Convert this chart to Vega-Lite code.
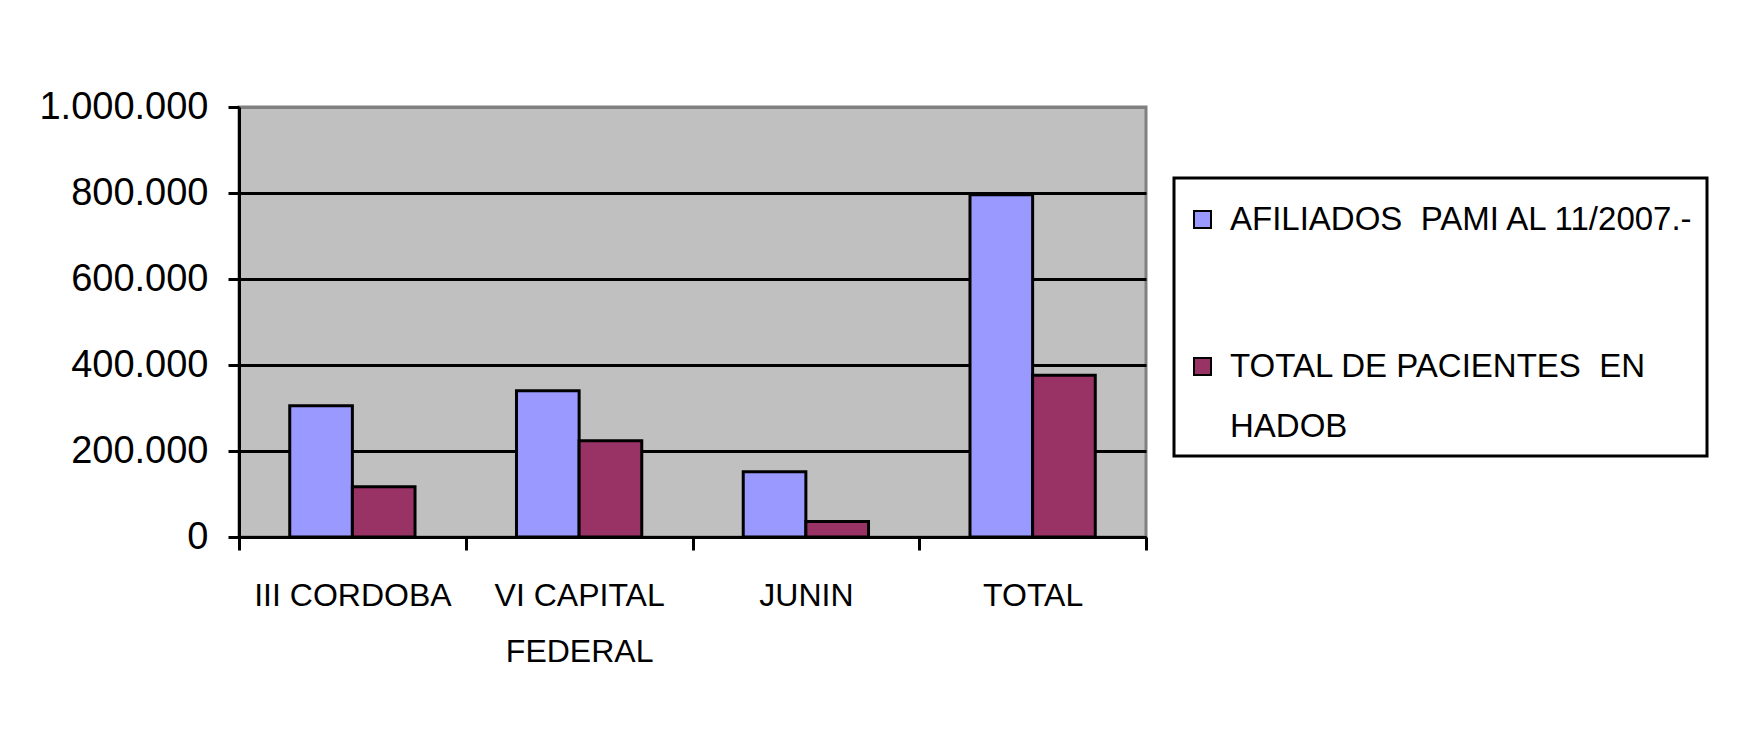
{
  "$schema": "https://vega.github.io/schema/vega-lite/v6.json",
  "width": 907,
  "height": 430,
  "autosize": {"type": "none"},
  "padding": {"left": 239, "top": 107, "right": 600, "bottom": 210},
  "background": "white",
  "data": {
    "values": [
      {"region": "III CORDOBA", "serie": "AFILIADOS  PAMI AL 11/2007.-", "valor": 305000},
      {"region": "III CORDOBA", "serie": "TOTAL DE PACIENTES  EN HADOB", "valor": 117000},
      {"region": "VI CAPITAL FEDERAL", "serie": "AFILIADOS  PAMI AL 11/2007.-", "valor": 340000},
      {"region": "VI CAPITAL FEDERAL", "serie": "TOTAL DE PACIENTES  EN HADOB", "valor": 224000},
      {"region": "JUNIN", "serie": "AFILIADOS  PAMI AL 11/2007.-", "valor": 152000},
      {"region": "JUNIN", "serie": "TOTAL DE PACIENTES  EN HADOB", "valor": 36000},
      {"region": "TOTAL", "serie": "AFILIADOS  PAMI AL 11/2007.-", "valor": 796000},
      {"region": "TOTAL", "serie": "TOTAL DE PACIENTES  EN HADOB", "valor": 376000}
    ]
  },
  "mark": {"type": "bar", "stroke": "black", "strokeWidth": 3},
  "encoding": {
    "x": {
      "field": "region",
      "type": "nominal",
      "sort": null,
      "title": null,
      "scale": {"paddingInner": 0, "paddingOuter": 0},
      "axis": {
        "labelAngle": 0,
        "labelFont": "Liberation Sans",
        "labelFontSize": 32,
        "labelColor": "black",
        "labelLineHeight": 56,
        "labelPadding": 30,
        "labelLimit": 400,
        "labelExpr": "datum.label == 'VI CAPITAL FEDERAL' ? ['VI CAPITAL', 'FEDERAL'] : datum.label",
        "tickBand": "extent",
        "tickColor": "black",
        "tickWidth": 3,
        "tickSize": 13,
        "domainColor": "black",
        "domainWidth": 3,
        "grid": false
      }
    },
    "xOffset": {
      "field": "serie",
      "type": "nominal",
      "scale": {"paddingInner": 0, "paddingOuter": 0.81}
    },
    "y": {
      "field": "valor",
      "type": "quantitative",
      "title": null,
      "scale": {"domain": [0, 1000000], "nice": false},
      "axis": {
        "values": [0, 200000, 400000, 600000, 800000, 1000000],
        "labelExpr": "replace(replace(format(datum.value, ','), ',', '.'), ',', '.')",
        "labelFont": "Liberation Sans",
        "labelFontSize": 38,
        "labelColor": "black",
        "labelPadding": 20,
        "tickColor": "black",
        "tickWidth": 3,
        "tickSize": 11,
        "domainColor": "black",
        "domainWidth": 3,
        "grid": true,
        "gridColor": {"condition": {"test": "datum.value == 1000000", "value": "#808080"}, "value": "black"},
        "gridWidth": 3,
        "gridOpacity": 1
      }
    },
    "color": {
      "field": "serie",
      "type": "nominal",
      "scale": {"range": ["#9999FF", "#993366"]},
      "legend": {
        "title": " ",
        "titleFontSize": 1,
        "titlePadding": 12,
        "orient": "none",
        "legendX": 935,
        "legendY": 71,
        "padding": 12,
        "strokeColor": "black",
        "fillColor": "white",
        "symbolType": "square",
        "symbolSize": 289,
        "symbolStrokeColor": "black",
        "symbolStrokeWidth": 2,
        "symbolOpacity": 1,
        "labelFont": "Liberation Sans",
        "labelFontSize": 33,
        "labelColor": "black",
        "labelLimit": 700,
        "labelOffset": 11,
        "rowPadding": 113,
        "labelExpr": "datum.label == 'TOTAL DE PACIENTES  EN HADOB' ? ['TOTAL DE PACIENTES\u00a0 EN', 'HADOB'] : replace(datum.label, '  ', '\u00a0 ')",
        "encode": {
          "labels": {"update": {"lineHeight": {"value": 60}}}
        }
      }
    }
  },
  "config": {
    "view": {"fill": "#C0C0C0", "stroke": "#808080", "strokeWidth": 3},
    "legend": {"strokeWidth": 3}
  }
}
